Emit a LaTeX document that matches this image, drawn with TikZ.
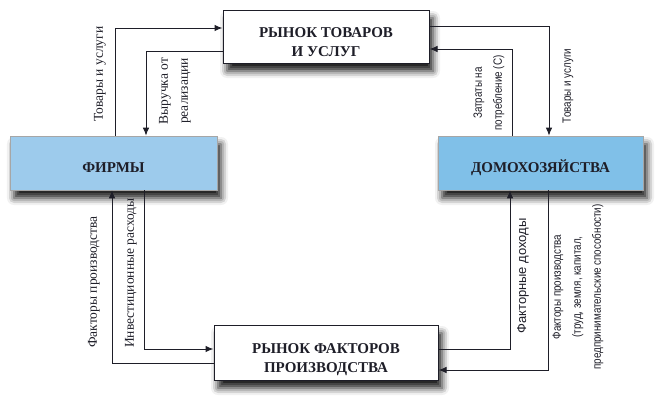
\documentclass[tikz,border=0pt]{standalone}
\usepackage{fontspec}
\setmainfont{Liberation Serif}
\newfontfamily\timesface{Liberation Serif}
\newfontfamily\narrowsans[FakeStretch=0.82]{Liberation Sans}
\newfontfamily\widesans{Liberation Sans}
\usetikzlibrary{arrows.meta,shadows.blur}
\definecolor{firmblue}{RGB}{157,203,236}
\definecolor{homeblue}{RGB}{128,192,232}
\definecolor{inkgray}{RGB}{30,30,40}

\begin{document}
\begin{tikzpicture}[x=1pt,y=-1pt,
  market/.style={draw=inkgray,line width=1pt,fill=white,minimum width=206pt,minimum height=53pt,align=center,text=inkgray,
    font=\timesface\fontsize{15}{19}\selectfont\bfseries,text height=39pt,text depth=0pt,
    blur shadow={shadow xshift=4pt,shadow yshift=-8pt,shadow blur radius=7pt,shadow opacity=90}},
  agent/.style={market,draw=gray!70,line width=0.6pt,text height=18pt,text depth=0pt},
  flow/.style={draw=inkgray,line width=1pt,-{Latex[length=8pt,width=6.5pt]}},
  serifnote/.style={rotate=90,align=center,text=inkgray,font=\timesface\fontsize{13.5}{20}\selectfont},
  narrownote/.style={rotate=90,align=center,text=inkgray,font=\narrowsans\fontsize{12}{20}\selectfont},
  widenote/.style={rotate=90,text=inkgray,font=\widesans\fontsize{13}{16}\selectfont}]
\useasboundingbox (0,0) rectangle (672,407);

% boxes
\node[market] (goods) at (326,36.5) {РЫНОК ТОВАРОВ\\И УСЛУГ};
\node[market,minimum width=224pt,minimum height=55pt] (factors) at (326,352.5) {РЫНОК ФАКТОРОВ\\ПРОИЗВОДСТВА};
\node[agent,fill=firmblue,minimum width=207pt,minimum height=54pt] (firms) at (113.5,163) {ФИРМЫ};
\node[agent,fill=homeblue,minimum width=205pt,minimum height=54pt] (homes) at (540.5,163) {ДОМОХОЗЯЙСТВА};

% bends of the flows
\coordinate (G1) at (115,28);
\coordinate (G2) at (146,51);
\coordinate (G3) at (549,26);
\coordinate (G4) at (512,49);
\coordinate (F1) at (112,363);
\coordinate (F2) at (144,349);
\coordinate (F3) at (510,349);
\coordinate (F4) at (548,370);

\draw[flow] (firms.north -| G1) |- (goods.west |- G1);
\draw[flow] (goods.west |- G2) -| (firms.north -| G2);
\draw[flow] (goods.east |- G3) -| (homes.north -| G3);
\draw[flow] (homes.north -| G4) |- (goods.east |- G4);
\draw[flow] (factors.west |- F1) -| (firms.south -| F1);
\draw[flow] (firms.south -| F2) |- (factors.west |- F2);
\draw[flow] (factors.east |- F3) -| (homes.south -| F3);
\draw[flow] (homes.south -| F4) |- (factors.east |- F4);

% labels
\node[serifnote] (lab1) at (100,74) {Товары и услуги};
\node[serifnote] (lab2) at (175,91) {Выручка от\\реализации};
\node[narrownote] (lab3) at (489,93) {Затраты на\\потребление (С)};
\node[narrownote] (lab4) at (568,86) {Товары и услуги};
\node[serifnote] (lab5) at (94,282) {Факторы производства};
\node[serifnote] (lab6) at (131,273) {Инвестиционные расходы};
\node[widenote] (lab7) at (523,276) {Факторные доходы};
\node[narrownote] (lab8) at (578,287) {Факторы производства\\(труд, земля, капитал,\\предпринимательские способности)};
\end{tikzpicture}
\end{document}
